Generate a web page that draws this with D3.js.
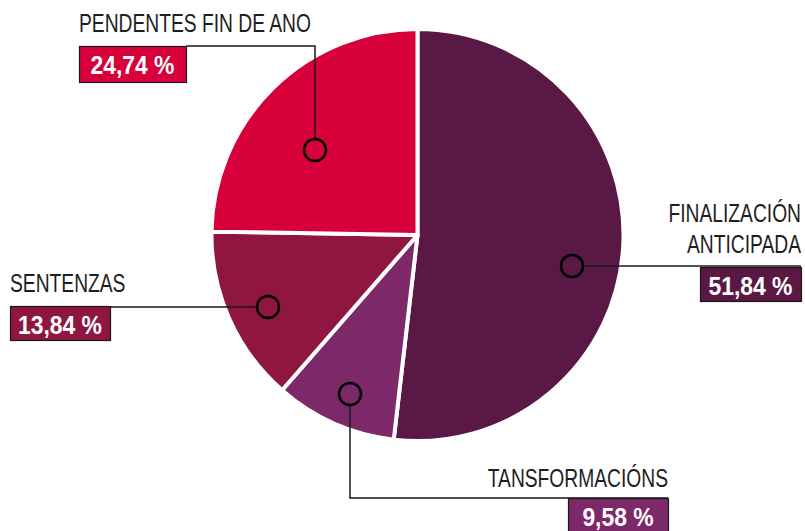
<!DOCTYPE html>
<html>
<head>
<meta charset="utf-8">
<script src="https://cdn.jsdelivr.net/npm/d3@7"></script>
<style>
  body { margin: 0; background: #fff; }
  svg { display: block; }
  .lbl { font-family: "Liberation Sans", Arial, sans-serif; }
</style>
</head>
<body>
<svg id="chart" width="805" height="531"></svg>
<script>
// data
var categories = ["FINALIZACIÓN ANTICIPADA", "TANSFORMACIÓNS", "SENTENZAS", "PENDENTES FIN DE ANO"];
var values = [51.84, 9.58, 13.84, 24.74];
var valueLabels = ["51,84 %", "9,58 %", "13,84 %", "24,74 %"];
var colors = ["#5a1945", "#7d2868", "#8e1640", "#d8003a"];

// annotation layout (label positions are hand placed like in the original)
var notes = [
  { dot: [572, 266], lines: ["FINALIZACIÓN", "ANTICIPADA"], anchor: "end", tx: 801, ty: [222, 253],
    box: [700, 267, 101, 34], path: [[583, 266], [801, 266]] },
  { dot: [350, 394], lines: ["TANSFORMACIÓNS"], anchor: "end", tx: 668, ty: [487],
    box: [568, 498, 100, 36], path: [[350, 405], [350, 498], [668, 498]] },
  { dot: [268, 307], lines: ["SENTENZAS"], anchor: "start", tx: 10, ty: [292],
    box: [10, 306, 100, 34], path: [[110, 307], [257, 307]] },
  { dot: [315, 150], lines: ["PENDENTES FIN DE ANO"], anchor: "start", tx: 79, ty: [32],
    box: [79, 46, 107, 36], path: [[186, 46], [315, 46], [315, 139]] }
];

var svg = d3.select("#chart");
var cx = 417.5, cy = 235, radius = 206;

var pie = d3.pie().sort(null).value(function (d) { return d; });
var arc = d3.arc().innerRadius(0).outerRadius(radius);

var g = svg.append("g").attr("transform", "translate(" + cx + "," + cy + ")");
g.selectAll("path.slice")
  .data(pie(values))
  .enter()
  .append("path")
  .attr("class", "slice")
  .attr("d", arc)
  .attr("fill", function (d, i) { return colors[i]; })
  .attr("stroke", "#fff")
  .attr("stroke-width", 4)
  .attr("stroke-linejoin", "round");

var line = d3.line();

// condensed look: no narrow font installed, so squeeze horizontally
function squeezed(sel, x, y, sx) {
  return sel.attr("transform", "translate(" + x + "," + y + ") scale(" + sx + ",1)");
}

notes.forEach(function (n, i) {
  var a = svg.append("g");

  a.append("path")
    .attr("d", line(n.path))
    .attr("fill", "none")
    .attr("stroke", "#1a1a1a")
    .attr("stroke-width", 1.5);

  a.append("circle")
    .attr("cx", n.dot[0])
    .attr("cy", n.dot[1])
    .attr("r", 11)
    .attr("fill", "none")
    .attr("stroke", "#000")
    .attr("stroke-width", 2.5);

  n.lines.forEach(function (t, j) {
    a.append("text")
      .attr("class", "lbl")
      .attr("text-anchor", n.anchor)
      .attr("font-size", 25)
      .attr("fill", "#1e1e1e")
      .text(t)
      .call(squeezed, n.tx, n.ty[j], 0.77);
  });

  a.append("rect")
    .attr("x", n.box[0] + 0.5)
    .attr("y", n.box[1] + 0.5)
    .attr("width", n.box[2])
    .attr("height", n.box[3])
    .attr("fill", colors[i])
    .attr("stroke", "#1a1a1a")
    .attr("stroke-width", 1.2);

  a.append("text")
    .attr("class", "lbl")
    .attr("text-anchor", "middle")
    .attr("font-size", 26)
    .attr("font-weight", "bold")
    .attr("fill", "#fff")
    .text(valueLabels[i])
    .call(squeezed, n.box[0] + n.box[2] / 2, n.box[1] + 28, 0.88);
});
</script>
</body>
</html>
